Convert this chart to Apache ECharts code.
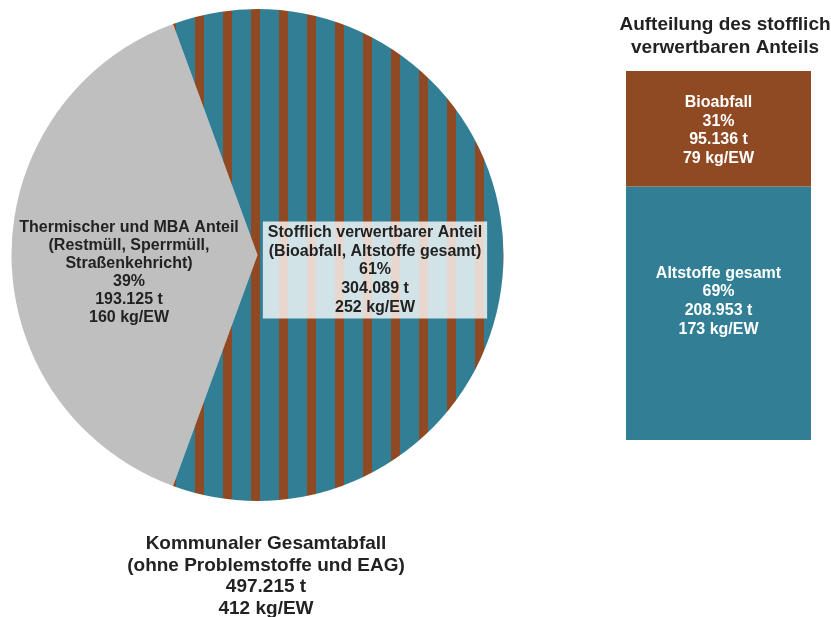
<!DOCTYPE html>
<html>
<head>
<meta charset="utf-8">
<script src="https://cdn.jsdelivr.net/npm/echarts@6/dist/echarts.min.js"></script>
<style>
html,body{margin:0;padding:0;background:#fff;}
#chart{width:831px;height:617px;}
</style>
</head>
<body>
<div id="chart"></div>
<script>
// ---- data ----
var pieNames = ['Thermischer und MBA Anteil\n(Restmüll, Sperrmüll,\nStraßenkehricht)', 'Stofflich verwertbarer Anteil\n(Bioabfall, Altstoffe gesamt)'];
var pieTonnes = [193125, 304089];
var piePct = ['39%', '61%'];
var pieKgEW = [160, 252];

var barNames = ['Altstoffe gesamt', 'Bioabfall'];
var barTonnes = [208953, 95136];
var barPct = ['69%', '31%'];
var barKgEW = [173, 79];

var totalTitle = 'Kommunaler Gesamtabfall\n(ohne Problemstoffe und EAG)';
var totalTonnes = 497215;
var totalKgEW = 412;
var barTitle = 'Aufteilung des stofflich\nverwertbaren Anteils';

// ---- styling ----
var TEAL = '#327f95';
var BROWN = '#904a23';
var GRAY = '#bfbfbf';
var TEXT = '#222222';
var FONT = '"Liberation Sans", Arial, sans-serif';

function fmtT(v) {
  return String(v).replace(/\B(?=(\d{3})+(?!\d))/g, '.') + ' t';
}

// stripe pattern
var pc = document.createElement('canvas');
pc.width = 28; pc.height = 28;
var ctx = pc.getContext('2d');
ctx.fillStyle = TEAL; ctx.fillRect(0, 0, 28, 28);
ctx.fillStyle = BROWN; ctx.fillRect(0, 0, 8, 28); ctx.fillRect(27, 0, 1, 28);

var pieTotal = pieTonnes[0] + pieTonnes[1];
var startAngle = 180 + 360 * pieTonnes[0] / pieTotal / 2;

var pieData = pieNames.map(function (n, i) {
  return {
    name: n,
    value: pieTonnes[i],
    itemStyle: { color: i === 0 ? GRAY : { image: pc, repeat: 'repeat' }, borderWidth: 0 },
    label: i === 1 ? {
      backgroundColor: 'rgba(255,255,255,0.78)',
      padding: [2, 5, 2, 5],
      lineHeight: 18.6
    } : { lineHeight: 18 }
  };
});

var chart = echarts.init(document.getElementById('chart'), null, { renderer: 'canvas' });
chart.setOption({
  animation: false,
  backgroundColor: '#ffffff',
  title: [{
    text: totalTitle + '\n' + fmtT(totalTonnes) + '\n' + totalKgEW + ' kg/EW',
    left: 261, top: 528, textAlign: 'center',
    textStyle: { fontFamily: FONT, fontSize: 19, fontWeight: 'bold', color: TEXT, lineHeight: 21.7, align: 'center' }
  }, {
    text: barTitle,
    left: 720, top: 8.5, textAlign: 'center',
    textStyle: { fontFamily: FONT, fontSize: 19, fontWeight: 'bold', color: TEXT, lineHeight: 23, align: 'center' }
  }],
  grid: { left: 626, top: 71, width: 185, height: 369 },
  xAxis: { type: 'category', data: [''], show: false },
  yAxis: { type: 'value', min: 0, max: barTonnes[0] + barTonnes[1], show: false },
  series: [{
    type: 'pie',
    center: [257.5, 255],
    radius: [0, 246],
    startAngle: startAngle,
    clockwise: true,
    silent: true,
    data: pieData,
    label: {
      show: true, position: 'inside',
      fontFamily: FONT, fontSize: 16, fontWeight: 'bold', color: TEXT,
      formatter: function (p) {
        var i = p.dataIndex;
        return pieNames[i] + '\n' + piePct[i] + '\n' + fmtT(pieTonnes[i]) + '\n' + pieKgEW[i] + ' kg/EW';
      }
    },
    labelLayout: function (p) {
      return p.dataIndex === 0 ? { dx: -2.5, dy: 18 } : { dx: -8.5, dy: 15 };
    },
    labelLine: { show: false },
    emphasis: { disabled: true }
  }].concat(barNames.map(function (n, i) {
    return {
      type: 'bar',
      name: n,
      stack: 'a',
      barWidth: '100%',
      silent: true,
      data: [barTonnes[i]],
      itemStyle: { color: i === 0 ? TEAL : BROWN },
      label: {
        show: true, position: 'inside',
        offset: [0, i === 0 ? -12 : 2],
        fontFamily: FONT, fontSize: 16, fontWeight: 'bold', color: '#ffffff', lineHeight: 18.6,
        formatter: function () {
          return n + '\n' + barPct[i] + '\n' + fmtT(barTonnes[i]) + '\n' + barKgEW[i] + ' kg/EW';
        }
      },
      emphasis: { disabled: true }
    };
  }))
});
</script>
</body>
</html>
